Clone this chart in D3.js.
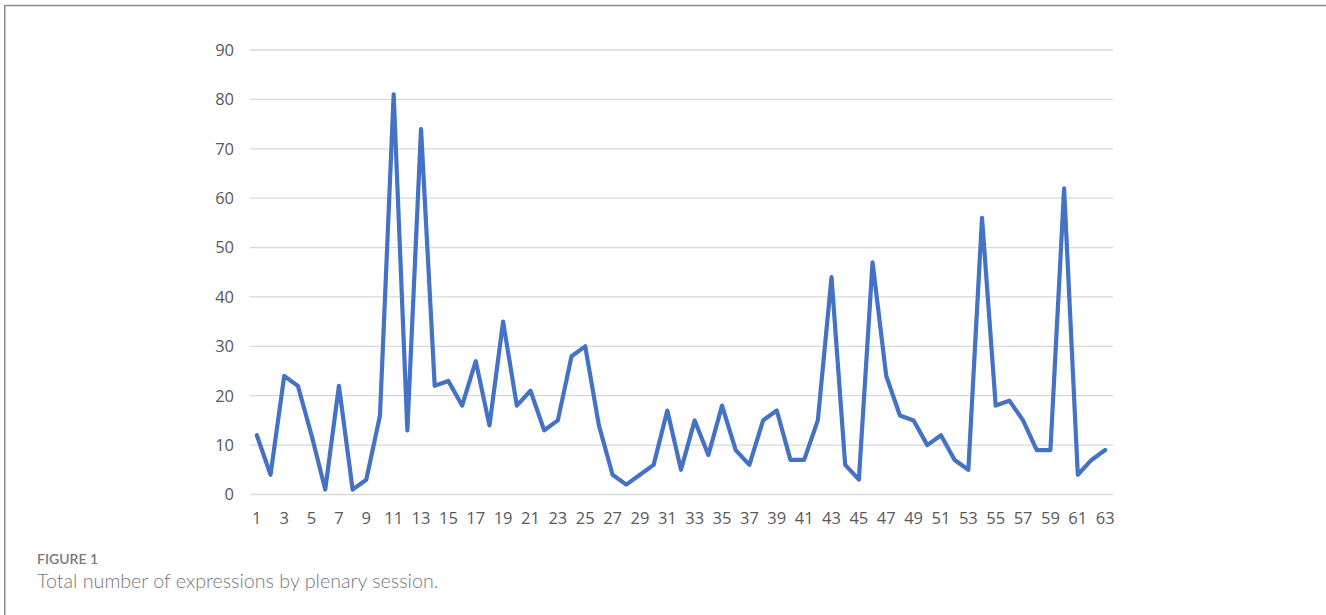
<!DOCTYPE html>
<html>
<head>
<meta charset="utf-8">
<script src="https://cdn.jsdelivr.net/npm/d3@7"></script>
<style>
html, body { margin: 0; padding: 0; background: #fff; }
svg { display: block; }
text.tk { font-family: "Open Sans", "Noto Sans", sans-serif; font-size: 16.5px; fill: #595959; }
</style>
</head>
<body>
<svg id="chart" width="1326" height="615"></svg>
<script>
const sessions = d3.range(1, 64);
const expressions = [12, 4, 24, 22, 12, 1, 22, 1, 3, 16,
  81, 13, 74, 22, 23, 18, 27, 14, 35, 18,
  21, 13, 15, 28, 30, 14, 4, 2, 4, 6,
  17, 5, 15, 8, 18, 9, 6, 15, 17, 7,
  7, 15, 44, 6, 3, 47, 24, 16, 15, 10,
  12, 7, 5, 56, 18, 19, 15, 9, 9, 62,
  4, 7, 9];
const yTicks = [0, 10, 20, 30, 40, 50, 60, 70, 80, 90];
const xTickLabels = sessions.filter(d => d % 2 === 1);
const figureLabel = "FIGURE 1";
const captionText = "Total number of expressions by plenary session.";

const svg = d3.select("#chart");

// frame
svg.append("line").attr("x1", 5).attr("x2", 1326).attr("y1", 5.5).attr("y2", 5.5)
  .attr("stroke", "#8a8a8a").attr("stroke-width", 1.5);
svg.append("line").attr("x1", 4.75).attr("x2", 4.75).attr("y1", 5).attr("y2", 615)
  .attr("stroke", "#8a8a8a").attr("stroke-width", 1.5);

const x = d3.scalePoint().domain(sessions).range([250, 1112]).padding(0.5);
const y = d3.scaleLinear().domain([0, 90]).range([494.5, 50]);

// gridlines
svg.append("g").selectAll("line").data(yTicks).join("line")
  .attr("x1", 250).attr("x2", 1113)
  .attr("y1", d => y(d)).attr("y2", d => y(d))
  .attr("stroke", "#d9d9d9").attr("stroke-width", 1.3);

// y labels
svg.append("g").selectAll("text").data(yTicks).join("text")
  .attr("class", "tk")
  .attr("x", 234).attr("y", d => y(d)).attr("dy", "0.36em")
  .attr("text-anchor", "end")
  .text(d => d);

// x labels
svg.append("g").selectAll("text").data(xTickLabels).join("text")
  .attr("class", "tk")
  .attr("x", d => x(d)).attr("y", 524)
  .attr("text-anchor", "middle")
  .text(d => d);

// line
const line = d3.line().x((d, i) => x(sessions[i])).y(d => y(d));
svg.append("path").datum(expressions)
  .attr("d", line)
  .attr("fill", "none")
  .attr("stroke", "#4472c4")
  .attr("stroke-width", 4.2)
  .attr("stroke-linejoin", "round")
  .attr("stroke-linecap", "round");

// caption
svg.append("text").attr("x", 37).attr("y", 564)
  .style("font-family", "Lato, 'Open Sans', sans-serif").style("font-size", "14px")
  .style("font-weight", 600).attr("fill", "#7a7a7a").text(figureLabel);
svg.append("text").attr("x", 37).attr("y", 588)
  .style("font-family", "Lato, 'Open Sans', sans-serif").style("font-size", "19.7px")
  .style("font-weight", 300).attr("fill", "#777").text(captionText);
</script>
</body>
</html>
